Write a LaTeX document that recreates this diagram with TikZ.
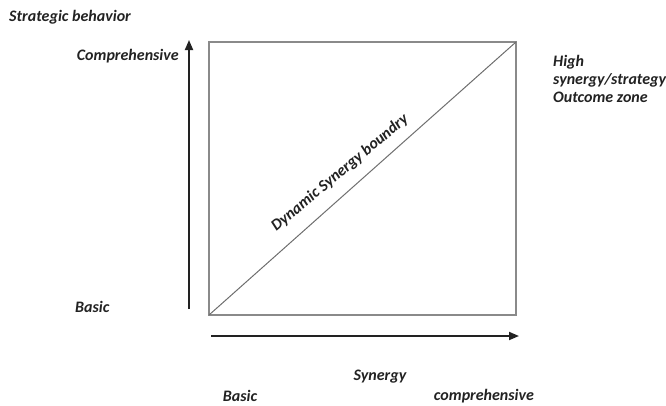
\documentclass[tikz,border=0pt]{standalone}
\usepackage{fontspec}
\setmainfont{Carlito}
\usetikzlibrary{arrows.meta,positioning}
\definecolor{SBInk}{HTML}{222222}
\definecolor{SBFrame}{HTML}{8A8A8A}

\begin{document}
\begin{tikzpicture}[x=1pt, y=-1pt, font=\bfseries\itshape\fontsize{16}{18}\selectfont,
  label/.style={inner sep=0pt, text=SBInk},
  frame/.style={draw=SBFrame, line width=1.6pt},
  boundary/.style={draw=SBFrame!80!black, line width=1pt},
  axis/.style={-{Triangle[length=10pt, width=8pt]}, draw=SBInk, line width=1.8pt}]
\useasboundingbox (0,0) rectangle (666,405);
% square and corners
\coordinate (bl) at (209,315); \coordinate (tr) at (516,42);
\draw[frame] (bl) rectangle (tr);
\draw[boundary] (bl) -- (tr);
% axes
\coordinate (ybot) at (189,309); \coordinate (ytop) at (189,40);
\coordinate (xleft) at (211,336); \coordinate (xright) at (519,336);
\draw[axis] (ybot) -- (ytop);
\draw[axis] (xleft) -- (xright);
% labels
\node[label, anchor=west] (title) at (9,17) {Strategic behavior};
\node[label, anchor=east] (ycomp) at (179,56) {Comprehensive};
\node[label, anchor=west] (ybasic) at (75,307) {Basic};
\node[label, anchor=north west, align=left] (zone) at (553,55) {High\\synergy/strategy\\Outcome zone};
\node[label, rotate=40] (dsb) at (340,173) {Dynamic Synergy boundry};
\node[label] (xsyn) at (380,377) {Synergy};
\node[label] (xbasic) at (240,396) {Basic};
\node[label] (xcomp) at (484,396) {comprehensive};
\end{tikzpicture}
\end{document}
